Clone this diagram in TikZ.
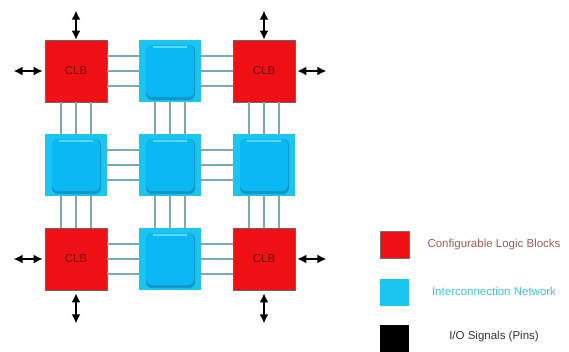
\documentclass[tikz,border=0pt]{standalone}
\usepackage{fontspec}
\setmainfont{Liberation Sans}
\usetikzlibrary{positioning,arrows.meta}
\definecolor{clbred}{HTML}{EE1014}
\definecolor{clbtext}{HTML}{7A1010}
\definecolor{icnout}{HTML}{1CC4F0}
\definecolor{icnin}{HTML}{0AB9F3}
\definecolor{icndark}{HTML}{1196C8}
\definecolor{icnlight}{HTML}{5CD8FF}
\definecolor{wirecol}{HTML}{7AA8BA}
\definecolor{legred}{HTML}{9E5C5C}
\definecolor{legcyan}{HTML}{3EC2D6}
\tikzset{
  clb/.style={draw=black!60,line width=0.7pt,fill=clbred,minimum size=62pt,inner sep=0pt,
    font=\fontsize{11.5}{13}\selectfont,text=clbtext},
  icn/.style={fill=icnout,minimum size=62pt,inner sep=0pt,
    path picture={
      \fill[icndark,rounded corners=6pt] ([xshift=7pt,yshift=-5pt]path picture bounding box.north west)
        rectangle ([xshift=-6pt,yshift=2pt]path picture bounding box.south east);
      \fill[icnin,rounded corners=6pt] ([xshift=7pt,yshift=-5pt]path picture bounding box.north west)
        rectangle ([xshift=-7pt,yshift=5pt]path picture bounding box.south east);
      \draw[icnlight,line width=1.5pt] ([xshift=14pt,yshift=-7pt]path picture bounding box.north west)
        -- ([xshift=-14pt,yshift=-7pt]path picture bounding box.north east);
    }},
  wire/.style={wirecol,line width=1.1pt},
  io/.style={{Latex[length=9pt,width=9pt]}-{Latex[length=9pt,width=9pt]},line width=1.6pt},
  legbox/.style={minimum width=29pt,minimum height=27pt,inner sep=0pt},
  legtext/.style={font=\fontsize{11.5}{13}\selectfont}
}
\begin{document}
\begin{tikzpicture}[x=1pt,y=-1pt,node distance=94pt]
\useasboundingbox (0,0) rectangle (569,351);
% logic blocks and switch boxes
\node[clb] (A) at (76,71) {CLB};
\node[icn] (B) [right of=A] {};
\node[clb] (C) [right of=B] {CLB};
\node[icn] (D) [below of=A] {};
\node[icn] (E) [right of=D] {};
\node[icn] (F) [right of=E] {};
\node[clb] (G) [below of=D] {CLB};
\node[icn] (H) [right of=G] {};
\node[clb] (I) [right of=H] {CLB};
% routing wires
\foreach \s in {-15,0,15} {
  \foreach \l/\r in {A/B,B/C,D/E,E/F,G/H,H/I}
    \draw[wire] ([yshift=\s pt]\l.east) -- ([yshift=\s pt]\r.west);
  \foreach \u/\d in {A/D,D/G,B/E,E/H,C/F,F/I}
    \draw[wire] ([xshift=\s pt]\u.south) -- ([xshift=\s pt]\d.north);
}
% I/O pins
\draw[io] (A.north) -- ([yshift=29pt]A.north);
\draw[io] ([xshift=-2pt]A.west) -- ([xshift=-31pt]A.west);
\draw[io] (C.north) -- ([yshift=29pt]C.north);
\draw[io] ([xshift=2pt]C.east) -- ([xshift=31pt]C.east);
\draw[io] ([yshift=-3pt]G.south) -- ([yshift=-33pt]G.south);
\draw[io] ([xshift=-2pt]G.west) -- ([xshift=-31pt]G.west);
\draw[io] ([yshift=-3pt]I.south) -- ([yshift=-33pt]I.south);
\draw[io] ([xshift=2pt]I.east) -- ([xshift=31pt]I.east);
% legend
\node[legbox,fill=clbred,draw=black!55,line width=0.6pt] (L1) at (394.5,245) {};
\node[legbox,fill=icnout] (L2) at (394.5,292) {};
\node[legbox,fill=black] (L3) at (394.5,338) {};
\node[legtext,text=legred] (T1) at (494,245) {Configurable Logic Blocks};
\node[legtext,text=legcyan] (T2) at (494,291) {Interconnection Network};
\node[legtext,text=black!80] (T3) at (494,337) {I/O Signals (Pins)};
\end{tikzpicture}
\end{document}
